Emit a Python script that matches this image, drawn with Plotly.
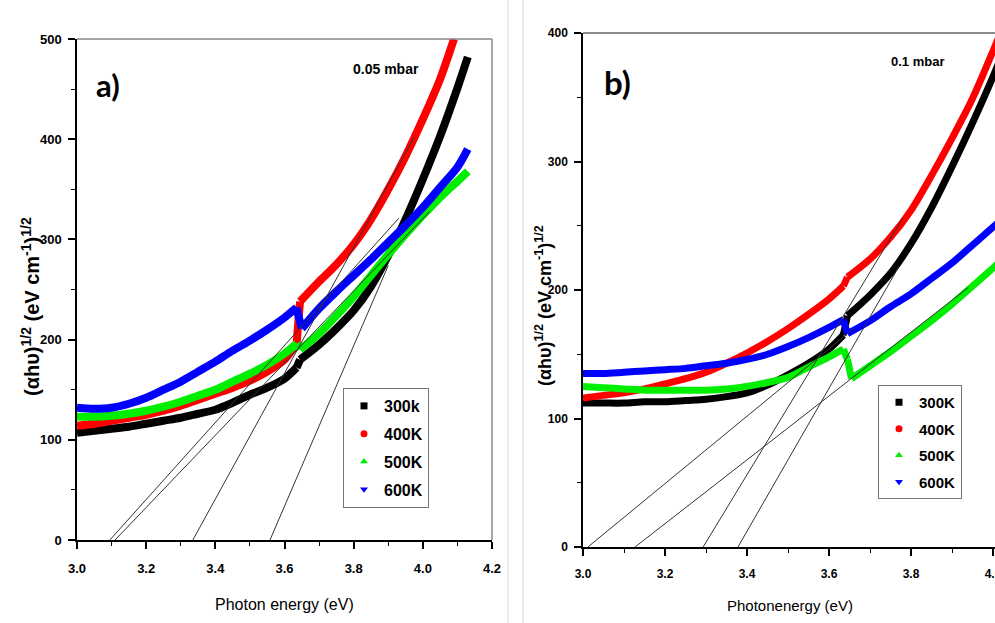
import plotly.graph_objects as go

W, H = 995, 623

# ---------------- Panel a) 0.05 mbar ----------------
a_x_300 = [3.00,3.05,3.10,3.15,3.20,3.25,3.30,3.35,3.40,3.45,3.50,3.55,3.60,3.635,3.645,3.70,3.75,3.80,3.85,3.90,3.95,4.00,4.05,4.10,4.13]
a_y_300 = [107,109,111,113,116,119,122,126,130,137,145,152,161,172,180,195,211,229,253,284,320,360,403,451,482]

a_x_400 = [3.00,3.05,3.10,3.15,3.20,3.25,3.30,3.35,3.40,3.45,3.50,3.55,3.60,3.635,3.64,3.645,3.70,3.75,3.80,3.85,3.90,3.95,4.00,4.05,4.09]
a_y_400 = [114,116,119,122,125,129,134,140,146,152,159,168,180,196,218,238,258,275,295,320,350,383,420,460,500]

a_x_500 = [3.00,3.05,3.10,3.15,3.20,3.25,3.30,3.35,3.40,3.45,3.50,3.55,3.60,3.635,3.645,3.70,3.75,3.80,3.85,3.90,3.95,4.00,4.05,4.10,4.13]
a_y_500 = [123,123,124,126,129,133,138,144,150,158,166,175,186,196,190,206,224,243,264,285,305,324,342,358,368]

a_x_600 = [3.00,3.05,3.10,3.15,3.20,3.25,3.30,3.35,3.40,3.45,3.50,3.55,3.60,3.635,3.64,3.65,3.70,3.75,3.80,3.85,3.90,3.95,4.00,4.05,4.10,4.13]
a_y_600 = [132,131,132,136,142,150,158,168,178,189,199,210,222,232,224,211,231,248,264,280,297,314,332,352,372,390]

# tangent (extrapolation) lines: x-intercept and end point
a_fit_x0 = [3.095, 3.110, 3.335, 3.558]
a_fit_x1 = [3.93, 4.02, 3.975, 3.90]
a_fit_y1 = [321, 328, 402, 274]

# ---------------- Panel b) 0.1 mbar ----------------
b_x_300 = [3.00,3.05,3.10,3.15,3.20,3.25,3.30,3.35,3.40,3.45,3.50,3.55,3.60,3.635,3.645,3.70,3.75,3.80,3.85,3.90,3.95,4.00,4.05]
b_y_300 = [112,112,112,113,113,114,115,117,120,126,134,143,154,165,180,196,213,236,264,296,330,366,405]

b_x_400 = [3.00,3.05,3.10,3.15,3.20,3.25,3.30,3.35,3.40,3.45,3.50,3.55,3.60,3.635,3.645,3.70,3.75,3.80,3.85,3.90,3.95,4.00,4.05]
b_y_400 = [116,118,120,123,127,131,136,143,151,160,170,181,193,203,210,224,241,262,289,318,349,386,425]

b_x_500 = [3.00,3.05,3.10,3.15,3.20,3.25,3.30,3.35,3.40,3.45,3.50,3.55,3.60,3.635,3.645,3.655,3.70,3.75,3.80,3.85,3.90,3.95,4.00,4.05]
b_y_500 = [125,124,123,122,122,122,122,123,125,128,132,140,148,154,146,131,141,152,164,176,189,203,217,232]

b_x_600 = [3.00,3.05,3.10,3.15,3.20,3.25,3.30,3.35,3.40,3.45,3.50,3.55,3.60,3.635,3.645,3.70,3.75,3.80,3.85,3.90,3.95,4.00,4.05]
b_y_600 = [135,135,136,137,138,139,141,143,146,150,156,163,171,177,166,176,187,197,209,221,235,249,263]

b_fit_x0 = [3.012, 3.127, 3.293, 3.378]
b_fit_x1 = [3.66, 3.94, 3.78, 3.77]
b_fit_y1 = [170, 202, 256, 218]

labels_a = ["300k", "400K", "500K", "600K"]
labels_b = ["300K", "400K", "500K", "600K"]
colors = ["#000000", "#ff0000", "#00ee00", "#0000ff"]
symbols = ["square", "circle", "triangle-up", "triangle-down"]

FONT = "Liberation Sans, Arial, sans-serif"

fig = go.Figure()


def segments(xs, ys):
    """Split a series into smooth runs; closely spaced points (the jump) are joined straight."""
    runs, cur = [], [0]
    for i in range(1, len(xs)):
        if xs[i] - xs[i - 1] < 0.02:
            runs.append(("spline", cur))
            runs.append(("linear", [i - 1, i]))
            cur = [i]
        else:
            cur.append(i)
    runs.append(("spline", cur))
    out = []
    for shape, idx in runs:
        if len(idx) >= 2:
            out.append((shape, [xs[k] for k in idx], [ys[k] for k in idx]))
    return out


panels = [
    ("x", "y", [(a_x_300, a_y_300), (a_x_400, a_y_400), (a_x_500, a_y_500), (a_x_600, a_y_600)],
     (a_fit_x0, a_fit_x1, a_fit_y1), labels_a, "legend", 8),
    ("x2", "y2", [(b_x_300, b_y_300), (b_x_400, b_y_400), (b_x_500, b_y_500), (b_x_600, b_y_600)],
     (b_fit_x0, b_fit_x1, b_fit_y1), labels_b, "legend2", 7),
]

for xa, ya, series, fits, labels, leg, lw in panels:
    for (xs, ys), c in zip(series, colors):
        for shape, sx, sy in segments(xs, ys):
            fig.add_trace(go.Scatter(x=sx, y=sy, mode="lines",
                                     line=dict(color=c, width=lw, shape=shape, smoothing=0.8 if shape == "spline" else None),
                                     xaxis=xa, yaxis=ya, showlegend=False, hoverinfo="skip"))
    x0s, x1s, y1s = fits
    for x0, x1, y1 in zip(x0s, x1s, y1s):
        fig.add_trace(go.Scatter(x=[x0, x1], y=[0, y1], mode="lines", line=dict(color="#333333", width=1),
                                 xaxis=xa, yaxis=ya, showlegend=False, hoverinfo="skip"))
    for i, (lab, c, s) in enumerate(zip(labels, colors, symbols)):
        fig.add_trace(go.Scatter(x=[None], y=[None], mode="markers", name=lab,
                                 marker=dict(symbol=s, color=c, size=7),
                                 xaxis=xa, yaxis=ya, legend=leg, legendgroup=leg + str(i), showlegend=True))

tickfont_a = dict(family=FONT, size=13, color="black", weight="bold")
tickfont_b = dict(family=FONT, size=12, color="black", weight="bold")

def xaxis(domain, rng, anchor, tf):
    return dict(domain=domain, range=rng, anchor=anchor, tick0=3.0, dtick=0.2, tickformat=".1f",
                ticks="outside", ticklen=7, tickwidth=1.5, tickcolor="black",
                showline=True, linecolor="black", linewidth=2, showgrid=False, zeroline=False,
                minor=dict(dtick=0.1, ticks="outside", ticklen=4, tickwidth=1.2, tickcolor="black", showgrid=False),
                tickfont=tf, ticklabelstandoff=8, ticklabeloverflow="allow", automargin=False, fixedrange=True)

def yaxis(domain, rng, anchor, tf):
    return dict(domain=domain, range=rng, anchor=anchor, tick0=0, dtick=100,
                ticks="outside", ticklen=7, tickwidth=1.5, tickcolor="black",
                showline=True, linecolor="black", linewidth=1.5, showgrid=False, zeroline=False,
                minor=dict(dtick=50, ticks="outside", ticklen=4, tickwidth=1.2, tickcolor="black", showgrid=False),
                tickfont=tf, ticklabelstandoff=4, automargin=False, fixedrange=True)

legend_common = dict(xanchor="left", yanchor="top", bgcolor="white", bordercolor="#777777", borderwidth=1,
                     itemsizing="trace", tracegroupgap=4)

fig.update_layout(
    width=W, height=H, margin=dict(l=0, r=0, t=0, b=0, autoexpand=False),
    paper_bgcolor="white", plot_bgcolor="white",
    xaxis=xaxis([77/W, 492/W], [3.0, 4.2], "y", tickfont_a),
    yaxis=yaxis([1-540/H, 1-39/H], [0, 500], "x", tickfont_a),
    xaxis2=xaxis([583/W, 1.0], [3.0, 3.0 + (W-583)/410], "y2", tickfont_b),
    yaxis2=yaxis([1-547/H, 1-33/H], [0, 400], "x2", tickfont_b),
    legend=dict(x=343/W, y=1-388/H,
                font=dict(family=FONT, size=16, color="black", weight="bold"), **legend_common),
    legend2=dict(x=878/W, y=1-385/H,
                 font=dict(family=FONT, size=15, color="black", weight="bold"), **legend_common),
    showlegend=True,
)

shapes = [
    dict(type="line", xref="x domain", yref="y domain", x0=0, x1=1, y0=1, y1=1, line=dict(color="#888888", width=1.5)),
    dict(type="line", xref="x domain", yref="y domain", x0=1, x1=1, y0=0, y1=1, line=dict(color="#888888", width=1.5)),
    dict(type="line", xref="x2 domain", yref="y2 domain", x0=0, x1=1, y0=1, y1=1, line=dict(color="#666666", width=1.5)),
    dict(type="line", xref="paper", yref="paper", x0=508/W, x1=508/W, y0=0, y1=1, line=dict(color="#e4e4e4", width=1.5)),
    dict(type="line", xref="paper", yref="paper", x0=523/W, x1=523/W, y0=0, y1=1, line=dict(color="#e4e4e4", width=1.5)),
]
fig.update_layout(shapes=shapes)

ytitle = "(αhυ)<sup>1/2</sup> (eV cm<sup>-1</sup>)<sup>1/2</sup>"
ann = [
    dict(text="a)", x=108/W, y=1-85/H, font=dict(family="Lato", size=31, color="black", weight="bold")),
    dict(text="0.05 mbar", x=386/W, y=1-69/H, font=dict(family=FONT, size=14, color="black", weight="bold")),
    dict(text="b)", x=617/W, y=1-82/H, font=dict(family="Lato", size=33, color="black", weight="bold")),
    dict(text="0.1 mbar", x=917/W, y=1-61/H, font=dict(family=FONT, size=13, color="black", weight="bold")),
    dict(text="Photon energy (eV)", x=284/W, y=1-604/H, font=dict(family=FONT, size=16, color="black")),
    dict(text="Photonenergy (eV)", x=790/W, y=1-605/H, font=dict(family=FONT, size=15, color="black")),
    dict(text=ytitle, x=30/W, y=1-307/H, textangle=-90, font=dict(family=FONT, size=20, color="black", weight="bold")),
    dict(text=ytitle, x=543/W, y=1-306/H, textangle=-90, font=dict(family=FONT, size=18, color="black", weight="bold")),
]
for a in ann:
    a.update(xref="paper", yref="paper", showarrow=False, xanchor="center", yanchor="middle")
fig.update_layout(annotations=ann)

fig.write_html("out.html")
